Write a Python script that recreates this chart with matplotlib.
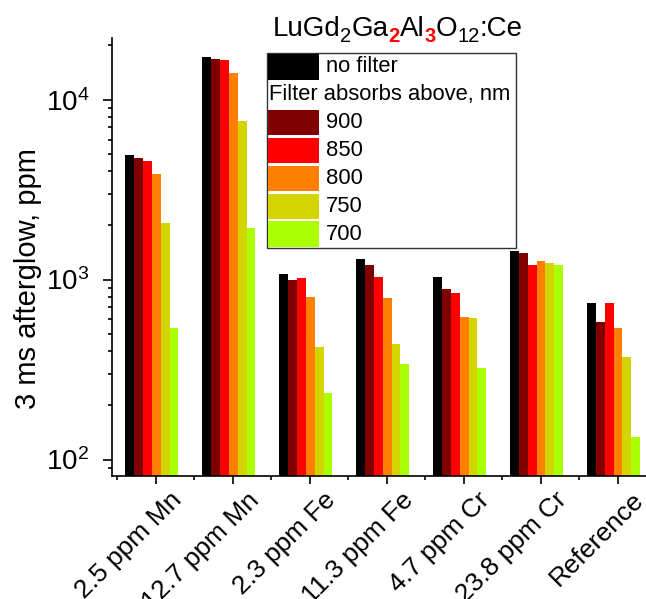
import matplotlib
matplotlib.use('Agg')
import matplotlib.pyplot as plt
import matplotlib.transforms as mtransforms
import numpy as np
from matplotlib.patches import Rectangle
from matplotlib.ticker import LogLocator, FixedLocator

plt.rcParams['font.family'] = ['Liberation Sans', 'DejaVu Sans']
plt.rcParams['mathtext.fontset'] = 'custom'
plt.rcParams['mathtext.rm'] = 'Liberation Sans'
plt.rcParams['mathtext.it'] = 'Liberation Sans:italic'
plt.rcParams['mathtext.bf'] = 'Liberation Sans:bold'

# 3 ms afterglow (ppm) per sample, one list per filter setting
samples = ['2.5 ppm Mn', '12.7 ppm Mn', '2.3 ppm Fe', '11.3 ppm Fe',
           '4.7 ppm Cr', '23.8 ppm Cr', 'Reference']
no_filter = [4950, 17300, 1070, 1300, 1030, 1440, 740]
f900 = [4720, 16900, 990, 1210, 890, 1410, 580]
f850 = [4560, 16700, 1020, 1030, 840, 1200, 740]
f800 = [3860, 14000, 795, 785, 615, 1265, 540]
f750 = [2060, 7640, 420, 440, 607, 1240, 370]
f700 = [536, 1930, 233, 338, 321, 1200, 132]

series = [no_filter, f900, f850, f800, f750, f700]
series_labels = ['no filter', '900', '850', '800', '750', '700']
colors = ['#000000', '#800000', '#ff0000', '#ff8000', '#d4d400', '#aaff00']
legend_header = 'Filter absorbs above, nm'

W, H = 646, 599
fig = plt.figure(figsize=(W / 100, H / 100), dpi=100)
ax = fig.add_axes([112 / W, 1 - 476 / H, 1 - 112 / W, (476 - 38) / H])

x = np.arange(len(samples))
bar_w = 0.1158
start = -0.399
for i, (vals, c) in enumerate(zip(series, colors)):
    ax.bar(x + start + i * bar_w, vals, width=bar_w, align='edge',
           color=c, edgecolor='none', bottom=1)

ax.set_yscale('log')
ax.set_ylim(81, 22000)
ax.set_xlim(-0.568, 6.37)

for s in ['top', 'right']:
    ax.spines[s].set_visible(False)
for s in ['left', 'bottom']:
    ax.spines[s].set_linewidth(1.2)

ax.yaxis.set_major_locator(LogLocator(base=10))
ax.yaxis.set_minor_locator(LogLocator(base=10, subs=np.arange(2, 10)))
ax.tick_params(axis='y', which='major', direction='out', length=6.5, width=1.2,
               labelsize=20, pad=10)
ax.tick_params(axis='y', which='minor', direction='out', length=3, width=1.2)

ax.xaxis.set_major_locator(FixedLocator(x))
ax.xaxis.set_minor_locator(FixedLocator(np.arange(-0.5, len(samples), 1.0)))
ax.set_xticklabels(samples, rotation=45, ha='right', va='top',
                   rotation_mode='anchor', fontsize=19)
ax.tick_params(axis='x', which='major', direction='out', length=6, width=1.2, pad=6)
ax.tick_params(axis='x', which='minor', direction='out', length=3, width=1.2)

# nudge the slanted sample names to the right of their ticks
shift = mtransforms.ScaledTranslation(0.14, 0.05, fig.dpi_scale_trans)
for lab in ax.get_xticklabels():
    lab.set_transform(lab.get_transform() + shift)

ax.set_ylabel('3 ms afterglow, ppm', fontsize=21)
ax.yaxis.set_label_coords(-0.131, 0.45)


def fx(px):
    return px / W


def fy(py):
    return 1 - py / H


# legend box drawn by hand: swatch column plus a header row
box_l, box_r, box_t, box_b = 267, 516, 53, 247.5
fig.add_artist(Rectangle((fx(box_l), fy(box_b)), fx(box_r) - fx(box_l),
                         fy(box_t) - fy(box_b), transform=fig.transFigure,
                         facecolor='white', edgecolor='#333333', lw=1.0, zorder=5))
row_top, row_h, sw_h = 54, 27.9, 25.5
rows = [(series_labels[0], colors[0]), (legend_header, None)] + \
       list(zip(series_labels[1:], colors[1:]))
for k, (lab, c) in enumerate(rows):
    top = row_top + k * row_h
    mid = top + sw_h / 2
    if c is None:
        fig.text(fx(269), fy(mid), lab, fontsize=15.8, va='center', ha='left', zorder=6)
        continue
    fig.add_artist(Rectangle((fx(268), fy(top + sw_h)), fx(319) - fx(268),
                             fy(top) - fy(top + sw_h), transform=fig.transFigure,
                             facecolor=c, edgecolor='none', zorder=6))
    fig.text(fx(326), fy(mid), lab, fontsize=15.8, va='center', ha='left', zorder=6)

# chemical formula title with coloured subscripts
renderer = fig.canvas.get_renderer()
parts = [('LuGd', 20, 'black', 'normal', 0), ('2', 14.5, 'black', 'normal', 5.7),
         ('Ga', 20, 'black', 'normal', 0), ('2', 14.5, 'red', 'bold', 5.7),
         ('Al', 20, 'black', 'normal', 0), ('3', 14.5, 'red', 'bold', 5.7),
         ('O', 20, 'black', 'normal', 0), ('12', 14.5, 'black', 'normal', 5.7),
         (':Ce', 20, 'black', 'normal', 0)]
cx = 272.5
for txt, size, col, wt, dy in parts:
    t = fig.text(fx(cx), fy(36 + dy), txt, fontsize=size, color=col,
                 fontweight=wt, ha='left', va='baseline')
    cx += t.get_window_extent(renderer).width

fig.savefig('out.png', dpi=100)
